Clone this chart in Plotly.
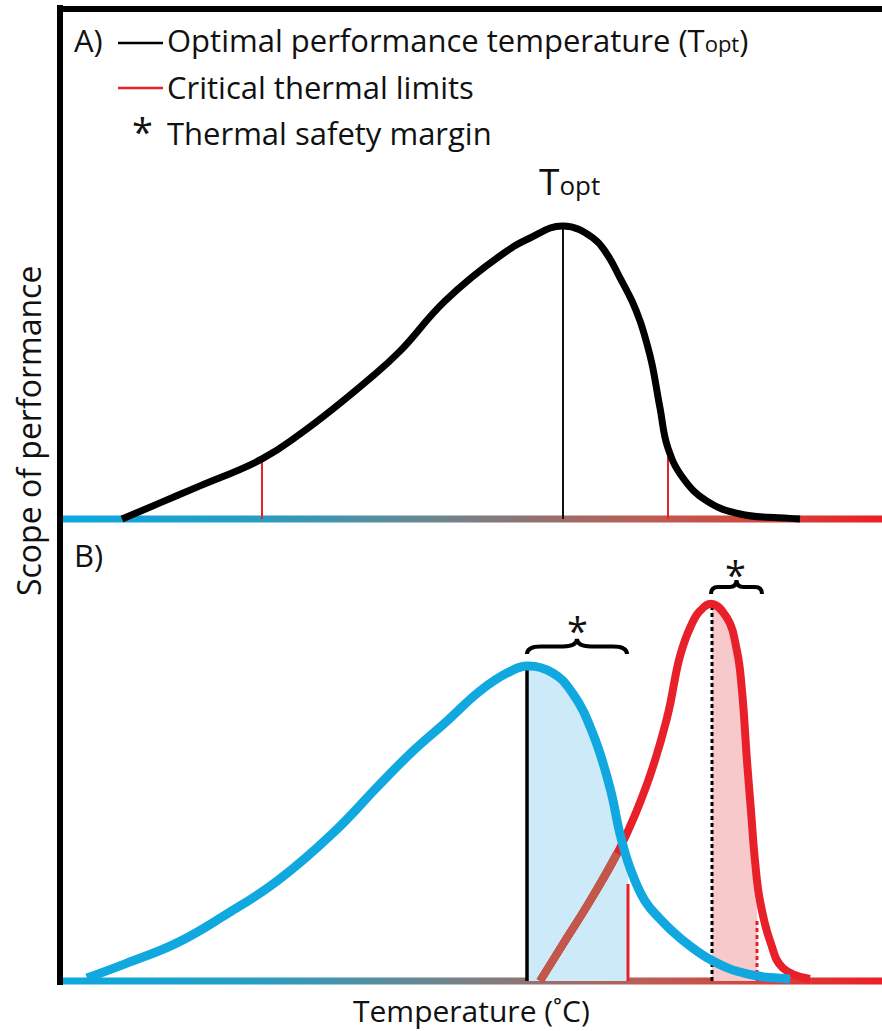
import numpy as np
import plotly.graph_objects as go

# ---------------- data (temperature in °C, performance in relative units) ----------------
# Panel A: generic thermal performance curve
a_temp = [3.1, 5.0, 7.0, 10.1, 12.0, 15.5, 17.0, 19.25, 22.0, 23.5, 25.15,
          26.65, 27.35, 28.0, 28.6, 29.0, 29.35, 29.6, 30.0, 30.4, 31.15, 32.35,
          34.0, 36.35, 37.0]
a_perf = [0.0, 0.055, 0.113, 0.205, 0.29, 0.48, 0.573, 0.744, 0.898, 0.959, 1.0,
          0.959, 0.904, 0.823, 0.744, 0.676, 0.597, 0.529, 0.379, 0.242, 0.140, 0.061,
          0.017, 0.003, 0.0]
a_topt = 25.15
a_topt_perf = 1.0
a_ctmin, a_ctmin_perf = 10.1, 0.205
a_ctmax, a_ctmax_perf = 30.4, 0.242

# Panel B: broad (cool-adapted) curve
blue_temp = [1.35, 3.35, 5.85, 8.35, 10.85, 13.65, 16.0, 17.65, 19.35, 21.0, 22.35,
             23.35, 24.65, 25.65, 26.65, 27.5, 28.0, 28.5, 29.25, 30.0, 31.0, 32.65,
             34.35, 35.85, 36.5]
blue_perf = [0.010, 0.061, 0.130, 0.229, 0.341, 0.505, 0.672, 0.785, 0.887, 0.990, 1.051,
             1.075, 1.051, 0.980, 0.843, 0.659, 0.502, 0.386, 0.273, 0.212, 0.147, 0.068,
             0.024, 0.010, 0.007]
blue_topt, blue_topt_perf = 23.35, 1.075
blue_ctmax, blue_ctmax_perf = 28.4, 0.331

# Panel B: narrow (warm-adapted) curve
red_temp = [24.0, 25.25, 26.5, 28.0, 29.35, 30.35, 31.0, 31.5, 32.0, 32.6, 33.35,
            33.85, 34.1, 34.35, 34.55, 34.75, 35.0, 35.5, 36.15, 37.5]
red_perf = [0.0, 0.137, 0.273, 0.454, 0.672, 0.898, 1.109, 1.205, 1.263, 1.287, 1.239,
            1.126, 0.990, 0.751, 0.580, 0.410, 0.273, 0.137, 0.044, 0.007]
red_topt, red_topt_perf = 32.6, 1.287
red_ctmax, red_ctmax_perf = 34.85, 0.205
red_cross = 27.85  # where the narrow curve passes the broad one

# Thermal safety margin braces: (start, end, end-height, tip-height)
brace_blue = (23.35, 28.35, 1.116, 1.168)
brace_red = (32.55, 35.1, 1.321, 1.369)

# ---------------- styling ----------------
W, H = 882, 1031
PX_PER_UNIT_Y = 293.0
FONT = "Open Sans"
BLUE = "#11a8e0"
RED = "#e8202a"
BROWN = "#c2574b"
INK = "#111111"
SMOOTH = 1.25

def px(x):
    return x / W

def py(y):
    return 1 - y / H

fig = go.Figure()

# gradient temperature axis (cold -> warm) in both panels
edges = np.linspace(-0.1, 41.1, 413)
centers = 0.5 * (edges[:-1] + edges[1:])
grad = [[0.0, "#0aa9e1"], [0.25, "#2a9cc0"], [0.45, "#6a8790"], [0.6, "#9a6e6c"],
        [0.72, "#bd5c54"], [0.85, "#d2453e"], [1.0, "#ec1e26"]]
half = 3.5 / PX_PER_UNIT_Y
for ya in ("y", "y2"):
    fig.add_trace(go.Heatmap(
        x=edges, y=[-half, half], z=[list(centers)], colorscale=grad,
        zmin=0, zmax=41.1, showscale=False, hoverinfo="skip", xaxis="x", yaxis=ya))

# ---------------- Panel A ----------------
fig.add_trace(go.Scatter(x=[a_ctmin, a_ctmin], y=[0, a_ctmin_perf], mode="lines",
                         line=dict(color=RED, width=2), yaxis="y", hoverinfo="skip"))
fig.add_trace(go.Scatter(x=[a_ctmax, a_ctmax], y=[0, a_ctmax_perf], mode="lines",
                         line=dict(color=RED, width=2), yaxis="y", hoverinfo="skip"))
fig.add_trace(go.Scatter(x=[a_topt, a_topt], y=[0, a_topt_perf], mode="lines",
                         line=dict(color=INK, width=2), yaxis="y", hoverinfo="skip"))
fig.add_trace(go.Scatter(x=a_temp, y=a_perf, mode="lines",
                         line=dict(color="#000000", width=7, shape="spline", smoothing=SMOOTH),
                         yaxis="y", hoverinfo="skip"))

# ---------------- Panel B ----------------
bt = np.array(blue_temp)
bp = np.array(blue_perf)
mask = (bt > blue_topt) & (bt < blue_ctmax)
fill_x = [blue_topt] + list(bt[mask]) + [blue_ctmax]
fill_y = [blue_topt_perf] + list(bp[mask]) + [float(np.interp(blue_ctmax, bt, bp))]
fig.add_trace(go.Scatter(x=fill_x, y=fill_y, mode="lines", fill="tozeroy",
                         fillcolor="#cdeaf9", line=dict(width=0, shape="spline", smoothing=SMOOTH),
                         yaxis="y2", hoverinfo="skip"))

rt = np.array(red_temp)
rp = np.array(red_perf)
mask = (rt > red_topt) & (rt < red_ctmax)
fill_x = [red_topt] + list(rt[mask]) + [red_ctmax]
fill_y = [red_topt_perf] + list(rp[mask]) + [float(np.interp(red_ctmax, rt, rp))]
fig.add_trace(go.Scatter(x=fill_x, y=fill_y, mode="lines", fill="tozeroy",
                         fillcolor="#f8c9ca", line=dict(width=0, shape="spline", smoothing=SMOOTH),
                         yaxis="y2", hoverinfo="skip"))

fig.add_trace(go.Scatter(x=[blue_topt, blue_topt], y=[0, blue_topt_perf], mode="lines",
                         line=dict(color="#000000", width=3.5), yaxis="y2", hoverinfo="skip"))
fig.add_trace(go.Scatter(x=[blue_ctmax, blue_ctmax], y=[0, blue_ctmax_perf], mode="lines",
                         line=dict(color=RED, width=3), yaxis="y2", hoverinfo="skip"))
fig.add_trace(go.Scatter(x=[red_topt, red_topt], y=[0, red_topt_perf], mode="lines",
                         line=dict(color="#000000", width=3, dash="4px,3px"),
                         yaxis="y2", hoverinfo="skip"))
fig.add_trace(go.Scatter(x=[red_ctmax, red_ctmax], y=[0, red_ctmax_perf], mode="lines",
                         line=dict(color=RED, width=3, dash="4px,3px"),
                         yaxis="y2", hoverinfo="skip"))

# narrow curve, with its lower limb tinted where it sits under the broad curve
fig.add_trace(go.Scatter(x=red_temp, y=red_perf, mode="lines",
                         line=dict(color=RED, width=8, shape="spline", smoothing=SMOOTH),
                         yaxis="y2", hoverinfo="skip"))
low = rt <= red_cross
lx = list(rt[low]) + [red_cross]
ly = list(rp[low]) + [float(np.interp(red_cross, rt, rp))]
fig.add_trace(go.Scatter(x=lx, y=ly, mode="lines",
                         line=dict(color=BROWN, width=8, shape="spline", smoothing=SMOOTH),
                         yaxis="y2", hoverinfo="skip"))
fig.add_trace(go.Scatter(x=blue_temp, y=blue_perf, mode="lines",
                         line=dict(color=BLUE, width=9, shape="spline", smoothing=SMOOTH),
                         yaxis="y2", hoverinfo="skip"))

# ---------------- braces ----------------
def brace_path(x0, x1, y_end, y_tip):
    xm = 0.5 * (x0 + x1)
    ym = 0.5 * (y_end + y_tip)
    q = (x1 - x0) * 0.14
    return (f"M {x0},{y_end} Q {x0},{ym} {x0 + q},{ym} L {xm - q},{ym} "
            f"Q {xm},{ym} {xm},{y_tip} Q {xm},{ym} {xm + q},{ym} "
            f"L {x1 - q},{ym} Q {x1},{ym} {x1},{y_end}")

shapes = []
for b in (brace_blue, brace_red):
    shapes.append(dict(type="path", path=brace_path(*b), xref="x", yref="y2",
                       line=dict(color="#000000", width=4)))

# frame
shapes.append(dict(type="line", xref="paper", yref="paper", x0=px(60), x1=px(60),
                   y0=py(5), y1=py(985), line=dict(color="#000000", width=6), layer="above"))
shapes.append(dict(type="line", xref="paper", yref="paper", x0=px(57), x1=px(882),
                   y0=py(9), y1=py(9), line=dict(color="#000000", width=6), layer="above"))
# legend keys
shapes.append(dict(type="line", xref="paper", yref="paper", x0=px(118), x1=px(163),
                   y0=py(43), y1=py(43), line=dict(color="#000000", width=2.5)))
shapes.append(dict(type="line", xref="paper", yref="paper", x0=px(118), x1=px(163),
                   y0=py(88), y1=py(88), line=dict(color=RED, width=2.5)))

def label(text, x, y, size=31, xanchor="left", angle=0):
    return dict(text=text, x=px(x), y=py(y), xref="paper", yref="paper",
                xanchor=xanchor, yanchor="middle", showarrow=False, textangle=angle,
                font=dict(family=FONT, size=size, color=INK))

sub_small = "<span style='font-size:22px'>opt</span>"
sub_big = "<span style='font-size:26px'>opt</span>"
annotations = [
    label("A)", 72, 40),
    label("Optimal performance temperature (T" + sub_small + ")", 165, 40),
    label("Critical thermal limits", 165, 87),
    label("*", 142, 131, size=38, xanchor="center"),
    label("Thermal safety margin", 165, 133),
    label("T" + sub_big, 569, 181, size=37, xanchor="center"),
    label("B)", 72, 555),
    label("Scope of performance", 28, 431, size=32, xanchor="center", angle=-90),
    label("Temperature (˚C)", 471, 1010, size=30, xanchor="center"),
    label("*", 577, 630, size=38, xanchor="center"),
    label("*", 735, 574, size=38, xanchor="center"),
]

ya_lo = -(H - 519) / PX_PER_UNIT_Y
yb_lo = -(H - 981) / PX_PER_UNIT_Y
span = H / PX_PER_UNIT_Y

fig.update_layout(
    width=W, height=H,
    margin=dict(l=0, r=0, t=0, b=0),
    paper_bgcolor="white", plot_bgcolor="white",
    showlegend=False,
    xaxis=dict(range=[-3, 41.1], domain=[0, 1], visible=False, fixedrange=True),
    yaxis=dict(range=[ya_lo, ya_lo + span], domain=[0, 1], visible=False, fixedrange=True),
    yaxis2=dict(range=[yb_lo, yb_lo + span], domain=[0, 1], visible=False,
                fixedrange=True, overlaying="y"),
    shapes=shapes,
    annotations=annotations,
)

fig.write_html("out.html", config={"displayModeBar": False})
